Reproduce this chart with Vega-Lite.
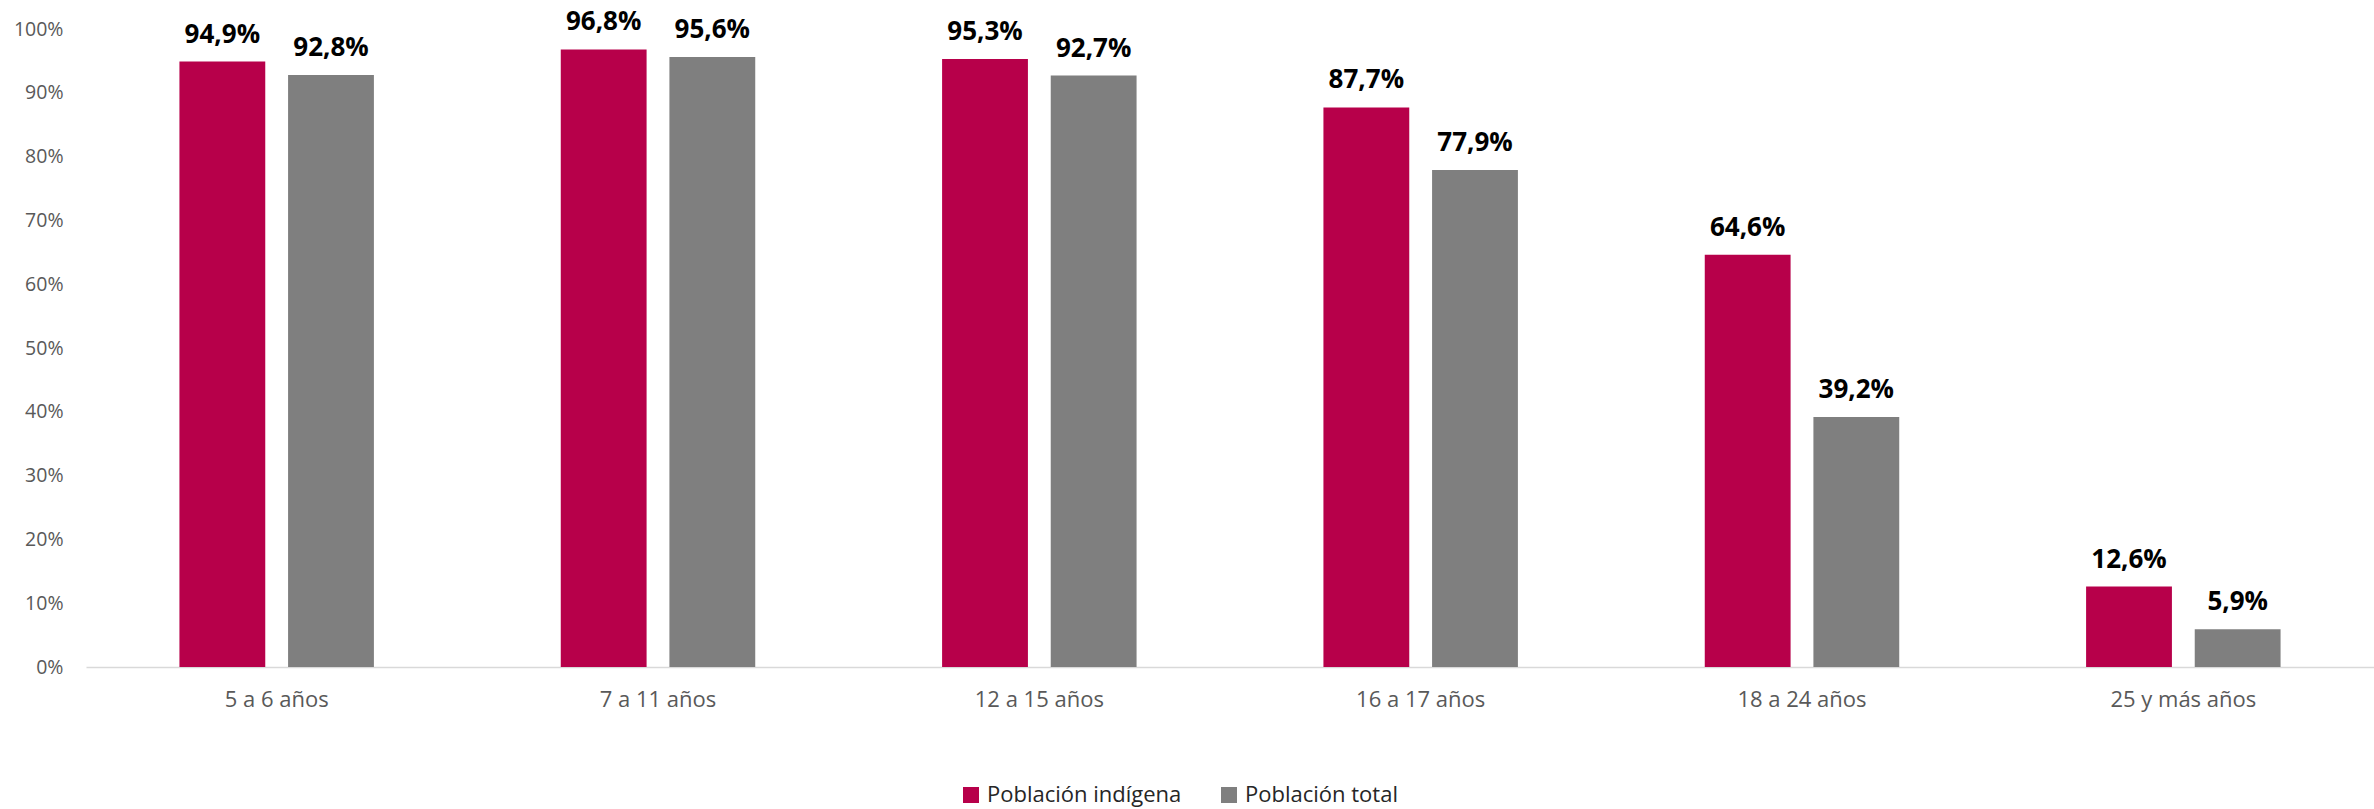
{
  "$schema": "https://vega.github.io/schema/vega-lite/v6.json",
  "width": 2288,
  "height": 638,
  "autosize": {"type": "none"},
  "padding": {"left": 86, "top": 29, "right": 0, "bottom": 142},
  "background": "white",
  "config": {
    "view": {"stroke": null},
    "font": "Open Sans",
    "locale": {"number": {"decimal": ",", "thousands": ".", "grouping": [3], "currency": ["", " €"]}}
  },
  "data": {
    "values": [
      {"grupo": "5 a 6 años", "serie": "Población indígena", "valor": 0.949},
      {"grupo": "5 a 6 años", "serie": "Población total", "valor": 0.928},
      {"grupo": "7 a 11 años", "serie": "Población indígena", "valor": 0.968},
      {"grupo": "7 a 11 años", "serie": "Población total", "valor": 0.956},
      {"grupo": "12 a 15 años", "serie": "Población indígena", "valor": 0.953},
      {"grupo": "12 a 15 años", "serie": "Población total", "valor": 0.927},
      {"grupo": "16 a 17 años", "serie": "Población indígena", "valor": 0.877},
      {"grupo": "16 a 17 años", "serie": "Población total", "valor": 0.779},
      {"grupo": "18 a 24 años", "serie": "Población indígena", "valor": 0.646},
      {"grupo": "18 a 24 años", "serie": "Población total", "valor": 0.392},
      {"grupo": "25 y más años", "serie": "Población indígena", "valor": 0.126},
      {"grupo": "25 y más años", "serie": "Población total", "valor": 0.059}
    ]
  },
  "encoding": {
    "x": {
      "field": "grupo", "type": "nominal", "sort": null,
      "scale": {"paddingInner": 0.49, "paddingOuter": 0.245},
      "axis": {
        "title": null, "labelAngle": 0, "ticks": false,
        "domainColor": "#D9D9D9", "domainWidth": 1.5,
        "labelFontSize": 22, "labelColor": "#595959", "labelPadding": 22
      }
    },
    "xOffset": {"field": "serie", "type": "nominal", "scale": {"paddingInner": 0.21}},
    "y": {
      "field": "valor", "type": "quantitative",
      "scale": {"domain": [0, 1]},
      "axis": {
        "title": null, "format": ".0%", "tickCount": 10, "grid": false,
        "domain": false, "ticks": false, "labelFontSize": 19.5, "labelColor": "#595959", "labelPadding": 23
      }
    }
  },
  "layer": [
    {
      "mark": {"type": "bar"},
      "encoding": {
        "color": {
          "field": "serie", "type": "nominal",
          "scale": {"domain": ["Población indígena", "Población total"], "range": ["#B7004A", "#7F7F7F"]},
          "legend": {
            "title": null, "orient": "none", "direction": "horizontal",
            "legendX": 874, "legendY": 755,
            "symbolType": "square", "symbolSize": 256, "symbolStrokeWidth": 0,
            "labelFontSize": 22, "labelColor": "#262626", "labelOffset": 5, "labelLimit": 0,
            "columnPadding": 36
          }
        }
      }
    },
    {
      "mark": {"type": "text", "baseline": "alphabetic", "dy": -19, "fontWeight": "bold", "fontSize": 26, "color": "#000000"},
      "encoding": {
        "text": {"field": "valor", "type": "quantitative", "format": ".1%"}
      }
    }
  ]
}
